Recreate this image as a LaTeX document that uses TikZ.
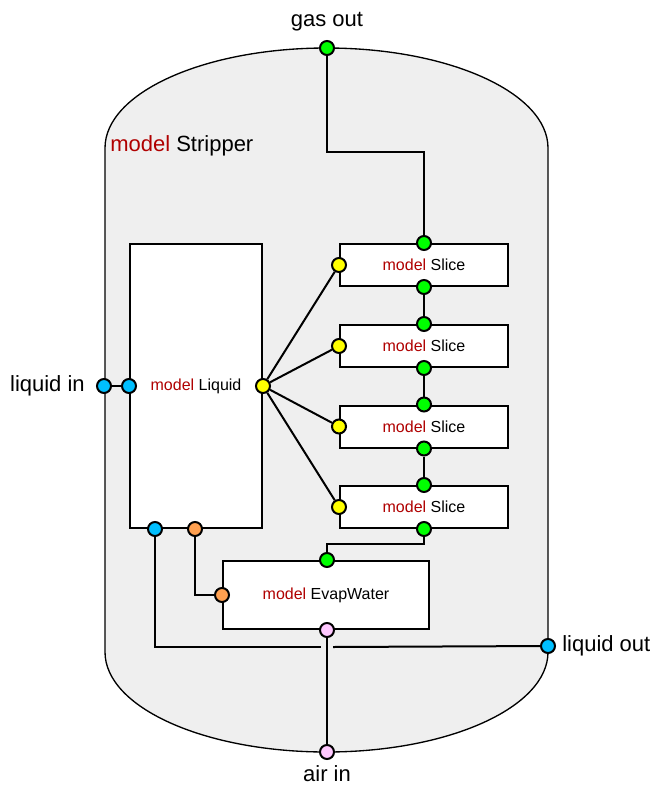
\documentclass[tikz,border=0pt]{standalone}
\usepackage{fontspec}
\setmainfont{Liberation Sans}
\usetikzlibrary{calc}
\definecolor{vesselfill}{HTML}{EFEFEF}
\definecolor{modred}{HTML}{B00000}
\definecolor{pgreen}{HTML}{00FF00}
\definecolor{pyellow}{HTML}{FFFF00}
\definecolor{pblue}{HTML}{00BFFF}
\definecolor{porange}{HTML}{FFA050}
\definecolor{ppink}{HTML}{FFC8FF}
\newcommand{\mdl}[1]{{\color{modred}model} #1}
\tikzset{
  port/.style={circle,draw=black,line width=1.5pt,minimum size=10.5pt,inner sep=0pt},
  gp/.style={port,fill=pgreen},
  yp/.style={port,fill=pyellow},
  bp/.style={port,fill=pblue},
  op/.style={port,fill=porange},
  pp/.style={port,fill=ppink},
  block/.style={draw=black,fill=white,line width=1.5pt,inner sep=0pt,font=\fontsize{12}{14}\selectfont},
  slicebox/.style={block,minimum width=126pt,minimum height=31.5pt},
  conn/.style={line width=1.5pt},
  lbl/.style={font=\fontsize{16.5}{19}\selectfont,inner sep=0pt}
}
\begin{document}
\begin{tikzpicture}[x=0.75pt,y=-0.75pt]
\useasboundingbox (0,0) rectangle (654,785);
% vessel
\draw[fill=vesselfill,line width=1pt] (105,148) -- (105,652)
  arc[start angle=180,end angle=360,x radius=166.125pt,y radius=75pt]
  -- (548,148)
  arc[start angle=0,end angle=180,x radius=166.125pt,y radius=75pt] -- cycle;
\node[lbl,anchor=west] (title) at (110,146) {\mdl{Stripper}};
% blocks
\node[block,minimum width=99pt,minimum height=213pt] (liq) at (196,386) {\mdl{Liquid}};
\node[slicebox] (s1) at (424,265) {\mdl{Slice}};
\node[slicebox] (s2) at (424,346) {\mdl{Slice}};
\node[slicebox] (s3) at (424,426.5) {\mdl{Slice}};
\node[slicebox] (s4) at (424,507) {\mdl{Slice}};
\node[block,minimum width=154.5pt,minimum height=51pt] (ev) at (326,595) {\mdl{EvapWater}};
% outer ports
\node[gp] (gasout) at (327,48) {};
\node[bp] (liqin) at (104,386) {};
\node[bp] (liqout) at (548,646) {};
\node[pp] (airin) at (327,752) {};
% labels
\node[lbl] (tgas) at (327,22) {gas out};
\node[lbl,anchor=east] (tliqin) at (85,386) {liquid in};
\node[lbl,anchor=west] (tliqout) at (562,646) {liquid out};
\node[lbl] (tair) at (327,774) {air in};
% liquid ports
\node[bp] (lqin) at (liq.west) {};
\node[yp] (lqy) at (liq.east) {};
\node[bp] (lqb) at ($(liq.south west)+(26,0)$) {};
\node[op] (lqo) at ($(liq.south west)+(66,0)$) {};
% slice ports
\foreach \s in {s1,s2,s3,s4}{
  \node[gp] (\s t) at (\s.north) {};
  \node[gp] (\s b) at (\s.south) {};
  \node[yp] (\s y) at (\s.west) {};
}
% evap ports
\node[gp] (evg) at ($(ev.north)+(1,0)$) {};
\node[op] (evo) at (ev.west) {};
\node[pp] (evp) at ($(ev.south)+(1,0)$) {};
% helper coordinates
\coordinate (gbend) at (424,152);
\coordinate (sbend) at (424,544);
\coordinate (gapL) at (321,647);
\coordinate (gapR) at (333,647);
% connectors
\draw[conn] (gasout) |- (gbend) -- (s1t);
\draw[conn] (s1b) -- (s2t);
\draw[conn] (s2b) -- (s3t);
\draw[conn] (s3b) -- (s4t);
\draw[conn] (s4b) |- (sbend) -| (evg);
\foreach \s in {s1,s2,s3,s4}{ \draw[conn] (lqy) -- (\s y); }
\draw[conn] (liqin) -- (lqin);
\draw[conn] (lqo) |- (evo);
\draw[conn] (lqb) |- (gapL);
\draw[conn] (gapR) -- (liqout);
\draw[conn] (evp) -- (airin);
\end{tikzpicture}
\end{document}
